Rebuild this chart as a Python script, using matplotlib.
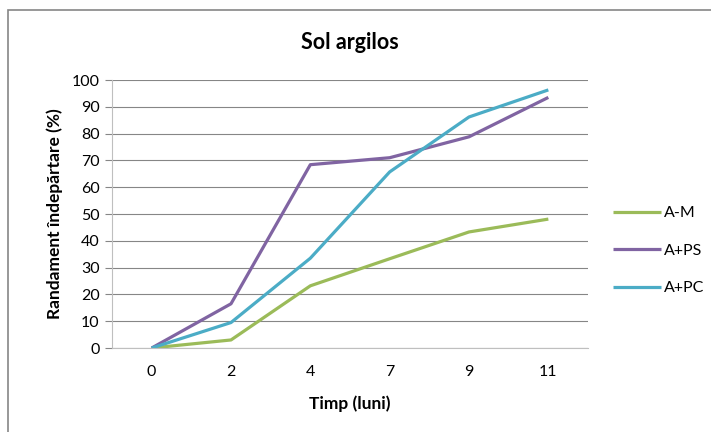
import matplotlib
matplotlib.use("Agg")
import matplotlib.pyplot as plt
from matplotlib.patches import Rectangle

plt.rcParams['font.family'] = ['Lato', 'DejaVu Sans']

# data
months = ['0', '2', '4', '7', '9', '11']
a_m = [0, 3, 23.2, 33.3, 43.3, 48.1]
a_ps = [0, 16.5, 68.4, 71, 78.8, 93.5]
a_pc = [0, 9.5, 33.5, 65.7, 86.2, 96.3]

series = [('A-M', a_m, '#9BBB59'),
          ('A+PS', a_ps, '#8064A2'),
          ('A+PC', a_pc, '#4BACC6')]

fig = plt.figure(figsize=(7.11, 4.32), dpi=100)
ax = fig.add_axes([112 / 711, 84 / 432, 476 / 711, 268 / 432])

x = range(len(months))
for name, vals, col in series:
    ax.plot(x, vals, color=col, linewidth=2.3, label=name, solid_capstyle='butt')

ax.set_xlim(-0.5, len(months) - 0.5)
ax.set_ylim(0, 100)
ax.set_yticks(range(0, 101, 10))
ax.set_xticks(list(x))
ax.set_xticklabels(months)
ax.yaxis.grid(True, color='#868686', linewidth=0.8)
ax.set_axisbelow(True)

for s in ['top', 'right']:
    ax.spines[s].set_visible(False)
ax.spines['left'].set_color('#BFBFBF')
ax.spines['bottom'].set_color('#BFBFBF')
ax.tick_params(axis='y', length=5, color='#868686', labelsize=11.5, pad=4)
ax.tick_params(axis='x', length=0, labelsize=11.5, pad=12)

ax.set_title('Sol argilos', fontsize=15.5, fontweight='bold', pad=22)
ax.set_xlabel('Timp (luni)', fontsize=12.5, fontweight='bold', labelpad=12)
ax.set_ylabel('Randament îndepărtare (%)', fontsize=12.5, fontweight='bold', labelpad=6)

leg = ax.legend(loc='center left', bbox_to_anchor=(1.04, 0.363), frameon=False,
                fontsize=11.5, handlelength=3.0, handletextpad=0.15, labelspacing=1.45,
                borderaxespad=0.0)

# outer chart frame
fig.patches.append(Rectangle((8 / 711, -0.1), 1.2, (432 - 10) / 432 + 0.1,
                             transform=fig.transFigure, fill=False,
                             edgecolor='#868686', linewidth=1.2))

fig.savefig('out.png', dpi=100)
